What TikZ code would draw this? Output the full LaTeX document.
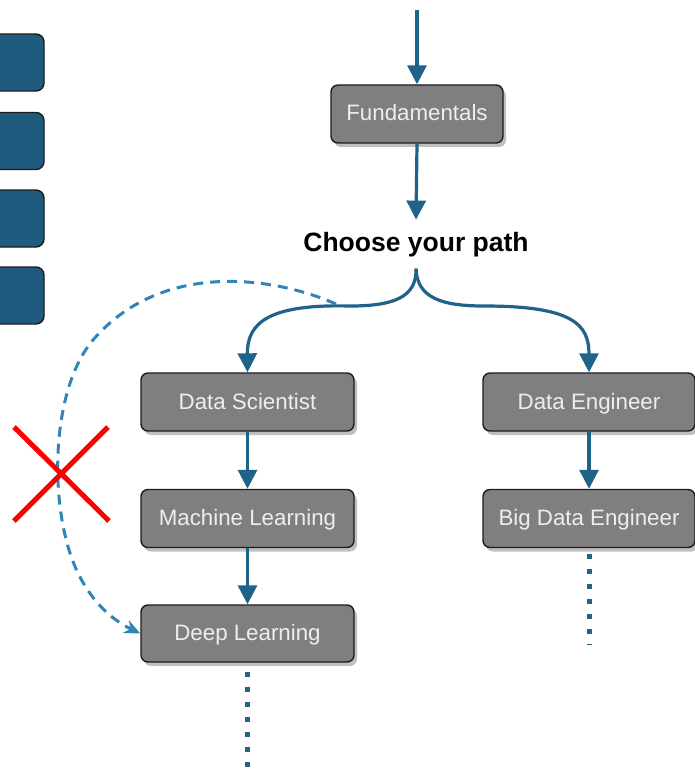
\documentclass[tikz,border=0pt]{standalone}
\usepackage{fontspec}
\setmainfont{Liberation Sans}
\usetikzlibrary{arrows.meta,shadows}

\definecolor{flowblue}{HTML}{1F6389}
\definecolor{skipblue}{HTML}{2E86B8}
\definecolor{boxgray}{HTML}{7F7F7F}
\definecolor{boxedge}{HTML}{1C1C1C}
\definecolor{tabblue}{HTML}{1F5B7F}
\definecolor{labelgray}{HTML}{EEEEEE}

\tikzset{
  stepbox/.style={draw=boxedge, line width=1.4pt, fill=boxgray, rounded corners=7pt,
    inner sep=0pt, minimum height=58pt, text height=17pt, text depth=3pt,
    text=labelgray, font=\fontsize{22.3}{26}\selectfont,
    drop shadow={shadow xshift=3pt, shadow yshift=-4pt, fill=black!25, opacity=1}},
  tabbox/.style={draw=boxedge, line width=1.4pt, fill=tabblue, rounded corners=8pt},
  flow/.style={draw=flowblue, line width=3.2pt, -{Triangle[length=19pt,width=19pt]}},
  skip/.style={draw=skipblue, line width=3pt, dash pattern=on 10pt off 7pt,
    -{Stealth[length=16pt,width=14pt]}},
  more/.style={draw=flowblue, line width=5pt, dash pattern=on 5pt off 10pt},
  cross/.style={draw=red, line width=5pt}
}

\begin{document}
\begin{tikzpicture}[x=1pt,y=-1pt]
  \useasboundingbox (0,0) rectangle (695,770);
  \clip (0,0) rectangle (695,770);

  % side tabs, partly off the left edge
  \node[tabbox, minimum width=80pt, minimum height=57pt] (tab1) at (4,62.5) {};
  \node[tabbox, minimum width=80pt, minimum height=57pt] (tab2) at (4,141) {};
  \node[tabbox, minimum width=80pt, minimum height=57pt] (tab3) at (4,218.5) {};
  \node[tabbox, minimum width=80pt, minimum height=57pt] (tab4) at (4,295.5) {};

  % main steps
  \node[stepbox, minimum width=172pt] (fund) at (417,114) {Fundamentals};
  \node[anchor=base, inner xsep=0pt, inner ysep=12pt,
        font=\fontsize{26.5}{30}\selectfont\bfseries] (choose) at (416,251) {Choose your path};

  \node[stepbox, minimum width=213pt] (ds) at (247.5,402) {Data Scientist};
  \node[stepbox, minimum width=213pt] (ml) at (247.5,518.5) {Machine Learning};
  \node[stepbox, minimum width=213pt, minimum height=57pt] (dl) at (247.5,633.5) {Deep Learning};

  \node[stepbox, minimum width=212pt] (de) at (589,402) {Data Engineer};
  \node[stepbox, minimum width=212pt] (bde) at (589,518.5) {Big Data Engineer};

  % free ends
  \coordinate (entry) at (417,10);
  \coordinate (fork) at (336,304);
  \coordinate (dlend) at (247.5,770);
  \coordinate (bdeend) at (589,645);

  % connectors
  \draw[flow] (entry) -- (fund.north);
  \draw[flow] (fund.south) -- (choose.north);
  \draw[flow] (choose.south) .. controls (417,298) and (392,306) .. (350,306)
                             .. controls (270,304) and (247,322) .. (ds.north);
  \draw[flow] (choose.south) .. controls (417,298) and (442,306) .. (484,306)
                             .. controls (572,306) and (589,324) .. (de.north);
  \draw[flow] (ds.south) -- (ml.north);
  \draw[flow] (ml.south) -- (dl.north);
  \draw[flow] (de.south) -- (bde.north);

  \draw[more] ([yshift=-9pt]dl.south) -- (dlend);
  \draw[more] ([yshift=-6pt]bde.south) -- (bdeend);

  % shortcut that skips the middle step
  \draw[skip] (fork) .. controls (270,275) and (160,262) .. (93,340)
                     .. controls (55,385) and (50,480) .. (67,543)
                     .. controls (80,592) and (108,618) .. (dl.west);

  % crossed out
  \coordinate (xa) at (14,427);
  \coordinate (xb) at (109,521);
  \coordinate (xc) at (108,427);
  \coordinate (xd) at (14,521);
  \draw[cross] (xa) -- (xb);
  \draw[cross] (xc) -- (xd);
\end{tikzpicture}
\end{document}
